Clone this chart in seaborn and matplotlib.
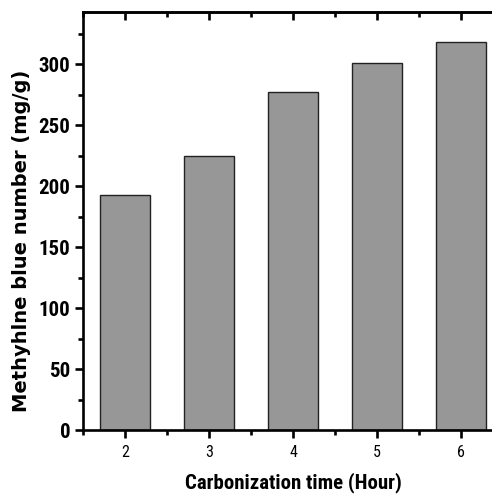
import matplotlib
matplotlib.use("Agg")
import matplotlib.pyplot as plt
import seaborn as sns
import pandas as pd
from matplotlib.ticker import MultipleLocator

hours = [2, 3, 4, 5, 6]
mb_number = [193, 225, 277, 301, 318]

sns.set_style("ticks")
plt.rcParams["font.family"] = ["Roboto Condensed", "DejaVu Sans"]
plt.rcParams["text.color"] = "black"
plt.rcParams["axes.labelcolor"] = "black"
plt.rcParams["xtick.color"] = "black"
plt.rcParams["ytick.color"] = "black"

df = pd.DataFrame({"hours": hours, "mb": mb_number})

fig = plt.figure(figsize=(4.92, 4.95), dpi=100)
ax = fig.add_axes([83/492, 65/495, 420/492, 418/495])

sns.barplot(data=df, x="hours", y="mb", native_scale=True, width=0.6,
            color="#979797", saturation=1, edgecolor="#222222", linewidth=1.0, ax=ax)

ax.set_xlim(1.5, 6.5)
ax.set_ylim(0, 343)
ax.xaxis.set_major_locator(MultipleLocator(1))
ax.xaxis.set_minor_locator(MultipleLocator(0.5))
ax.yaxis.set_major_locator(MultipleLocator(50))
ax.yaxis.set_minor_locator(MultipleLocator(25))

for s in ax.spines.values():
    s.set_linewidth(1.9)
    s.set_color("black")

ax.tick_params(axis="both", which="major", direction="out", length=6, width=1.9, colors="black")
ax.tick_params(axis="both", which="minor", direction="out", length=3.5, width=1.9, colors="black")
ax.tick_params(axis="x", which="major", labelsize=11.5, pad=5)
ax.tick_params(axis="y", which="major", labelsize=15, pad=3)
for lab in ax.get_yticklabels():
    lab.set_fontweight("bold")

top = ax.secondary_xaxis("top")
top.xaxis.set_major_locator(MultipleLocator(1))
top.xaxis.set_minor_locator(MultipleLocator(0.5))
top.tick_params(which="major", direction="in", length=6, width=1.9, labeltop=False)
top.tick_params(which="minor", direction="in", length=3.5, width=1.9)
top.spines["top"].set_linewidth(1.9)

ax.set_xlabel("Carbonization time (Hour)", fontsize=15, fontweight="bold", labelpad=9)
ax.set_ylabel("Methyhlne blue number (mg/g)", fontsize=14, fontweight="bold",
              family=["DejaVu Sans"])
ax.yaxis.set_label_coords(-0.124, 0.452)

fig.savefig("out.png", dpi=100)
